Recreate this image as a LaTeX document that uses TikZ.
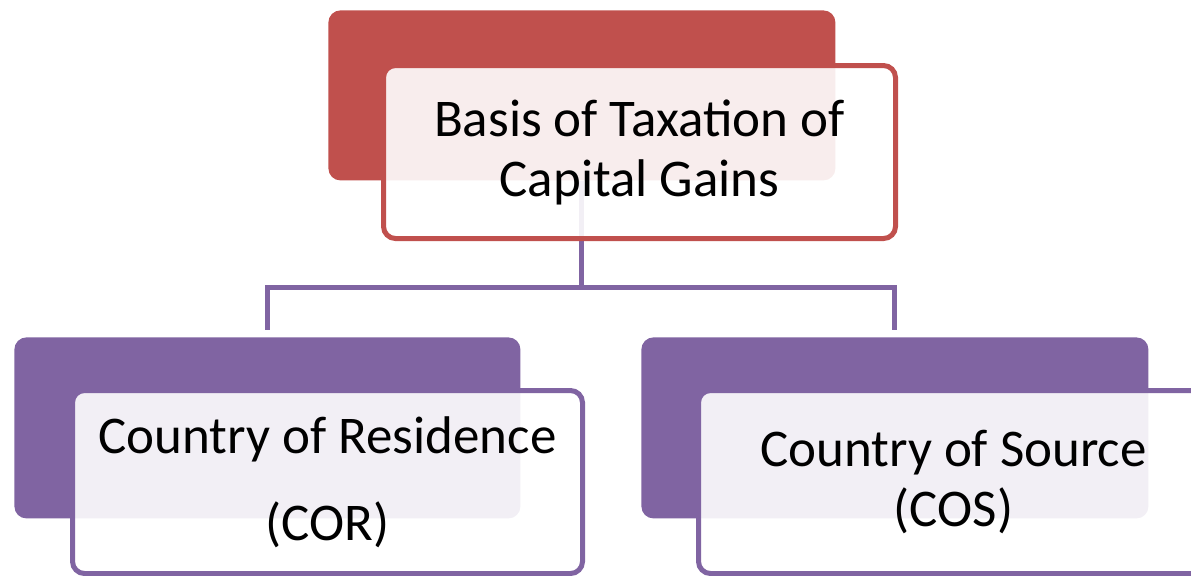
\documentclass[tikz,border=0pt]{standalone}
\usepackage{fontspec}
\setmainfont{Carlito}
\usepackage{tikz}
\usetikzlibrary{calc}
\definecolor{taxred}{HTML}{C0504D}
\definecolor{taxpurple}{HTML}{8064A2}
\tikzstyle{backbox}  = [rectangle, rounded corners=6pt, anchor=north west, inner sep=0pt]
\tikzstyle{frontbox} = [rectangle, rounded corners=6pt, anchor=north west, line width=2.5pt, fill=white, fill opacity=0.9, text opacity=1, align=center, font=\fontsize{26.5}{30}\selectfont]
\tikzstyle{link}     = [line width=2.5pt, draw=taxpurple]

\begin{document}
\begin{tikzpicture}[x=0.5pt, y=-0.5pt]
        \useasboundingbox (0,0) rectangle (1191,575);
        \clip (0,0) rectangle (1191,575);

        % back boxes
        \node[backbox, fill=taxred, minimum width=253.5pt, minimum height=85pt] (basisback) at (328,10) {};
        \node[backbox, fill=taxpurple, minimum width=253pt, minimum height=90.5pt] (corback) at (14,337) {};
        \node[backbox, fill=taxpurple, minimum width=253.5pt, minimum height=90.5pt] (cosback) at (641,337) {};

        % connectors
        \coordinate (split) at ([yshift=-53.5pt]basisback.south);
        \draw[link] (basisback.south) -- (split);
        \draw[link, shorten >=3.5pt] (split) -| (corback.north);
        \draw[link, shorten >=3.5pt] (split) -| (cosback.north);

        % front boxes
        \node[frontbox, draw=taxred, minimum width=256pt, minimum height=86.5pt] (basis) at (381,63)
            {Basis of Taxation of\\Capital Gains};
        \node[frontbox, draw=taxpurple, minimum width=255pt, minimum height=91.5pt] (cor) at (70,388)
            {Country of Residence\\[13.5pt](COR)};
        \node[frontbox, draw=taxpurple, minimum width=255pt, minimum height=91.5pt] (cos) at (696,388)
            {Country of Source\\(COS)};
    \end{tikzpicture}
\end{document}
